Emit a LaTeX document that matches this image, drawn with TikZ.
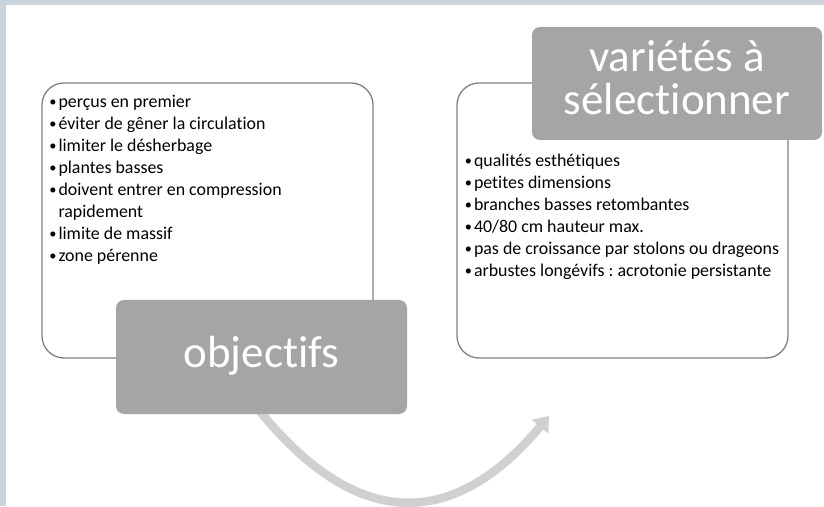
\documentclass[tikz,border=0pt]{standalone}
\usepackage{fontspec}
\setmainfont{Carlito}[Ligatures=NoCommon]
\usetikzlibrary{arrows.meta}
\definecolor{bandc}{HTML}{CBD4DD}
\definecolor{boxgray}{HTML}{A5A5A5}
\definecolor{edgegray}{HTML}{808080}
\definecolor{arrowgray}{HTML}{D0D0D0}
\pgfdeclarelayer{background}
\pgfsetlayers{background,main}
\frenchspacing
\newcommand\bul{\makebox[11pt][c]{\raisebox{1.1pt}{\scalebox{0.8}{•}}}}
\newcommand\nobul{\makebox[11pt][c]{}}
\begin{document}
\begin{tikzpicture}[x=1pt,y=1pt,
  panel/.style={draw=edgegray, line width=1.3pt, rounded corners=22pt, fill=white,
    minimum width=331pt, minimum height=275pt, anchor=north west, inner sep=0pt, outer sep=0pt},
  titlebox/.style={fill=boxgray, rounded corners=8pt, text=white, align=center,
    font=\fontsize{45}{43}\selectfont, inner sep=0pt, outer sep=0pt},
  listtext/.style={font=\fontsize{17.9}{22}\selectfont, align=left, inner sep=0pt,
    outer sep=0pt, text=black, anchor=base west},
  cyclearrow/.style={draw=arrowgray, line width=8.5pt,
    -{Triangle[width=21pt,length=14pt]}}]
\useasboundingbox (0,0) rectangle (824,506);
% panels
\node[panel] (leftpanel) at (42,423) {};
\node[panel] (rightpanel) at (457,423) {};
% lists (anchor = baseline of the last line)
\node[listtext] (leftlist) at (47.5,244) {\bul perçus en premier\\
\bul éviter de gêner la circulation\\
\bul limiter le désherbage\\
\bul plantes basses\\
\bul doivent entrer en compression\\
\nobul rapidement\\
\bul limite de massif\\
\bul zone pérenne};
\node[listtext] (rightlist) at (463,229) {\bul qualités esthétiques\\
\bul petites dimensions\\
\bul branches basses retombantes\\
\bul 40/80 cm hauteur max.\\
\bul pas de croissance par stolons ou drageons\\
\bul arbustes longévifs : acrotonie persistante};
% title boxes
\node[titlebox, minimum width=291pt, minimum height=114pt, text height=31pt, text depth=9pt]
  (obj) at (261.5,149) {objectifs};
\node[titlebox, minimum width=290pt, minimum height=113pt, text height=74pt, text depth=11pt]
  (var) at (677,422.5) {variétés à\\sélectionner};
% background: page, bands, cycle arrow
\begin{pgfonlayer}{background}
  \fill[white] (0,0) rectangle (824,506);
  \fill[bandc] (0,501) rectangle (824,506);
  \fill[bandc] (0,0) rectangle (6,506);
  \coordinate (arcS) at ([xshift=-16.5pt,yshift=22pt]obj.south);
  \coordinate (arcE) at (549,90);
  \draw[cyclearrow] (arcS) .. controls (346.3,-23.1) and (447.7,-31.1) .. (arcE);
\end{pgfonlayer}
\end{tikzpicture}
\end{document}
